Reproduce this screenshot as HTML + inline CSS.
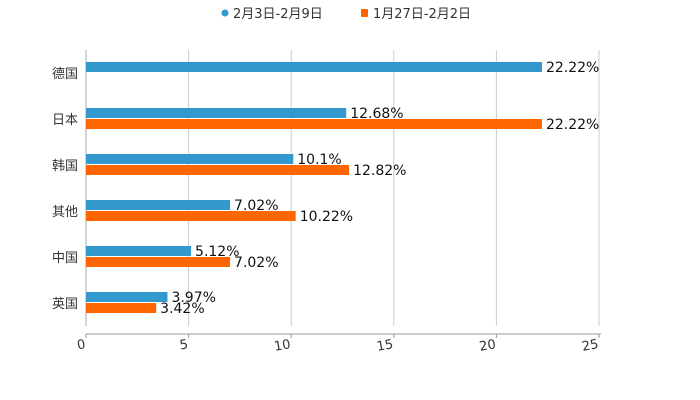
<!DOCTYPE html>
<html><head><meta charset="utf-8">
<style>
body{margin:0;background:#fff;}
svg{display:block;font-family:"DejaVu Sans","Noto Sans CJK SC",sans-serif;}
</style></head>
<body>
<svg id="chart" width="700" height="400">
  <g>
    <g>
      <circle cx="225" cy="13" r="3.5" fill="#3399cc"/>
      <text x="233" y="18" font-size="13" fill="#333">2月3日-2月9日</text>
    </g>
    <g>
      <rect x="361" y="9" width="7" height="8" rx="1" fill="#ff6600"/>
      <text x="373" y="18" font-size="13" fill="#333">1月27日-2月2日</text>
    </g>
  </g>
  <g id="grid"></g>
  <g id="bars"></g>
  <g id="axes"></g>
</svg>
<script>
const categories = ["德国","日本","韩国","其他","中国","英国"];
const seriesA = [22.22, 12.68, 10.1, 7.02, 5.12, 3.97];
const seriesB = [null, 22.22, 12.82, 10.22, 7.02, 3.42];
const labelsA = ["22.22%","12.68%","10.1%","7.02%","5.12%","3.97%"];
const labelsB = ["","22.22%","12.82%","10.22%","7.02%","3.42%"];
const ticks = [0,5,10,15,20,25];

const NS="http://www.w3.org/2000/svg";
const x0=86, x1=599, xmax=25, plotTop=50, plotBottom=326;
const band=(plotBottom-plotTop)/categories.length;
const xs=v=>x0+v/xmax*(x1-x0);
const yc=i=>plotTop+band*(i+0.5);
function mk(tag,attrs,parent){const e=document.createElementNS(NS,tag);for(const k in attrs)e.setAttribute(k,attrs[k]);parent.appendChild(e);return e;}
const grid=document.getElementById('grid'),bars=document.getElementById('bars'),axes=document.getElementById('axes');

ticks.forEach(t=>{
  const g=mk('line',{x1:xs(t),x2:xs(t),y1:plotTop,y2:plotBottom,stroke:t===0?'#aaa':'#ccc','stroke-width':1},grid);
  
  
  const tk=mk('line',{x1:xs(t),x2:xs(t),y1:334,y2:338,stroke:'#999'},axes);
  
  
  const tx=mk('text',{x:xs(t),y:348,'font-size':13,fill:'#333','text-anchor':'end',transform:`rotate(-10 ${xs(t)} 348)`},axes);
  tx.textContent=t;
  
  
});
const al=mk('line',{x1:x0,x2:x1+2,y1:334,y2:334,stroke:'#999'},axes);



categories.forEach((c,i)=>{
  const y=yc(i);
  const lab=mk('text',{x:78,y:y+5,'font-size':13,fill:'#333','text-anchor':'end'},axes);
  lab.textContent=c;
  
  
  if(seriesA[i]!=null){
    const r=mk('rect',{x:x0,y:y-11,width:xs(seriesA[i])-x0,height:10,fill:'#3399cc'},bars);
    
    
    const t=mk('text',{x:xs(seriesA[i])+4,y:y-1,'font-size':14,fill:'#111'},bars);
    t.textContent=labelsA[i];
    
    
  }
  if(seriesB[i]!=null){
    const r=mk('rect',{x:x0,y:y,width:xs(seriesB[i])-x0,height:10,fill:'#ff6600'},bars);
    
    
    const t=mk('text',{x:xs(seriesB[i])+4,y:y+10,'font-size':14,fill:'#111'},bars);
    t.textContent=labelsB[i];
    
    
  }
});
</script>
</body></html>
